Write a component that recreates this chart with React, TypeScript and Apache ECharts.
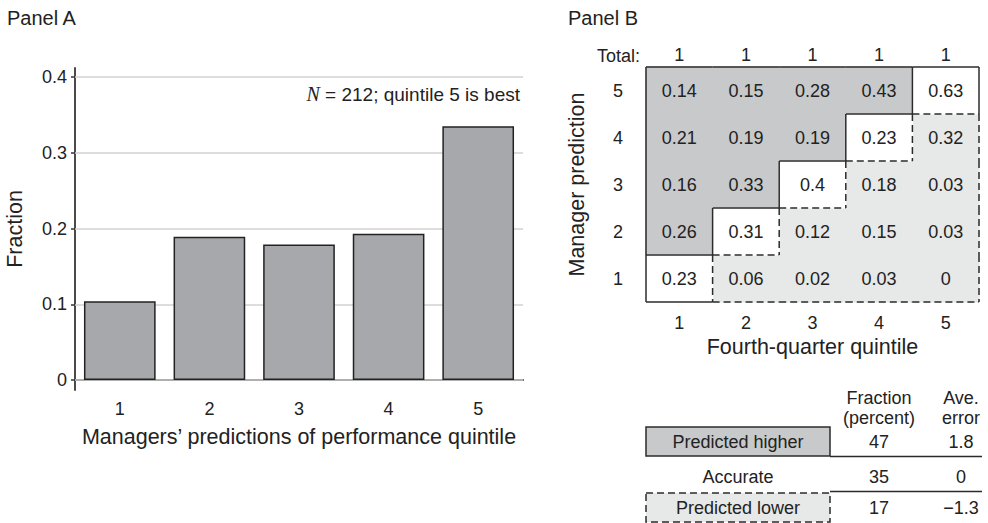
import React, { useEffect, useRef } from "react";
import * as echarts from "echarts";

// Panel A: share of managers' predictions in each performance quintile
const quintiles = ["1", "2", "3", "4", "5"];
const predictionShare = [0.104, 0.189, 0.179, 0.193, 0.335];
const fractionTicks = [0, 0.1, 0.2, 0.3, 0.4];

// Panel B: transition matrix, rows = manager prediction (1..5), columns = fourth-quarter quintile (1..5)
const predRow1 = [0.23, 0.06, 0.02, 0.03, 0];
const predRow2 = [0.26, 0.31, 0.12, 0.15, 0.03];
const predRow3 = [0.16, 0.33, 0.4, 0.18, 0.03];
const predRow4 = [0.21, 0.19, 0.19, 0.23, 0.32];
const predRow5 = [0.14, 0.15, 0.28, 0.43, 0.63];
const columnTotals = [1, 1, 1, 1, 1];

// Summary table beneath Panel B
const summaryLabels = ["Predicted higher", "Accurate", "Predicted lower"];
const summaryFraction = [47, 35, 17];
const summaryError = [1.8, 0, -1.3];

const FONT = "'Liberation Sans', Arial, Helvetica, sans-serif";
const INK = "#222";
const DARK_FILL = "#c8c9cb";
const LIGHT_FILL = "#e7e8e8";
const EDGE = "#2b2b2b";

const matrixRows = [predRow1, predRow2, predRow3, predRow4, predRow5];

type Kind = "higher" | "accurate" | "lower";
const cellKind = (row: number, col: number): Kind =>
  row > col ? "higher" : row === col ? "accurate" : "lower";

const fmtSigned = (v: number) => (v < 0 ? "\u2212" + String(Math.abs(v)) : String(v));

export default function App() {
  const ref = useRef<HTMLDivElement>(null);

  useEffect(() => {
    if (!ref.current) return;
    const chart = echarts.init(ref.current, null, { renderer: "svg" });

    const matrixData: number[][] = [];
    matrixRows.forEach((vals, r) => vals.forEach((v, c) => matrixData.push([c, r, v])));

    const renderCell = (params: any, api: any) => {
      const c = api.value(0) as number;
      const r = api.value(1) as number;
      const v = api.value(2) as number;
      const center = api.coord([c, r]);
      const size = api.size([1, 1]);
      const w = size[0];
      const h = size[1];
      const x0 = center[0] - w / 2;
      const y0 = center[1] - h / 2;
      const x1 = x0 + w;
      const y1 = y0 + h;
      const kind = cellKind(r, c);
      const fill = kind === "higher" ? DARK_FILL : kind === "lower" ? LIGHT_FILL : "#ffffff";

      const children: any[] = [
        // slight overlap so neighbouring fills join without seams
        { type: "rect", shape: { x: x0 - 0.5, y: y0 - 0.5, width: w + 1, height: h + 1 }, style: { fill }, z2: kind === "accurate" ? 1 : 0 },
        {
          type: "text",
          style: {
            text: String(v),
            x: center[0],
            y: center[1],
            align: "center",
            verticalAlign: "middle",
            fontSize: 18,
            fontFamily: FONT,
            fill: INK,
          },
          z2: 5,
        },
      ];

      const edges: [number, number, number[]][] = [
        [c, r + 1, [x0, y0, x1, y0]], // top
        [c, r - 1, [x0, y1, x1, y1]], // bottom
        [c - 1, r, [x0, y0, x0, y1]], // left
        [c + 1, r, [x1, y0, x1, y1]], // right
      ];
      edges.forEach(([nc, nr, seg]) => {
        const outside = nc < 0 || nc > 4 || nr < 0 || nr > 4;
        const differs = outside || cellKind(nr, nc) !== kind;
        if (!differs) return;
        if (kind === "accurate" && !outside) return;
        children.push({
          type: "line",
          shape: { x1: seg[0], y1: seg[1], x2: seg[2], y2: seg[3] },
          style: {
            stroke: EDGE,
            lineWidth: 1.5,
            lineDash: kind === "lower" ? [7, 4] : null,
          },
          z2: 10,
        });
      });
      return { type: "group", children };
    };

    const graphic: any[] = [
      {
        type: "text",
        x: 520,
        y: 94,
        style: {
          text: "{i|N} = 212; quintile 5 is best",
          align: "right",
          verticalAlign: "middle",
          fontSize: 19,
          fontFamily: FONT,
          fill: INK,
          rich: {
            i: { fontFamily: "'Liberation Serif', 'Times New Roman', serif", fontStyle: "italic", fontSize: 20, fill: INK },
          },
        },
      },
      {
        type: "text",
        x: 640,
        y: 56,
        style: { text: "Total:", align: "right", verticalAlign: "middle", fontSize: 18, fontFamily: FONT, fill: INK },
      },
    ];

    // Summary table
    const colLabelX = 738;
    const colFracX = 879;
    const colErrX = 961;
    const rowY = [442, 477, 508];
    const cellText = (text: string, x: number, y: number) => ({
      type: "text",
      x,
      y,
      style: { text, align: "center", verticalAlign: "middle", fontSize: 18, fontFamily: FONT, fill: INK },
    });
    graphic.push(cellText("Fraction", colFracX, 398));
    graphic.push(cellText("(percent)", colFracX, 418));
    graphic.push(cellText("Ave.", colErrX, 398));
    graphic.push(cellText("error", colErrX, 418));
    graphic.push({
      type: "rect",
      shape: { x: 646, y: 427, width: 184, height: 29 },
      style: { fill: DARK_FILL, stroke: EDGE, lineWidth: 1.5 },
    });
    graphic.push({
      type: "rect",
      shape: { x: 646, y: 493, width: 184, height: 29 },
      style: { fill: LIGHT_FILL, stroke: EDGE, lineWidth: 1.5, lineDash: [7, 4] },
    });
    graphic.push({ type: "line", shape: { x1: 830, y1: 456.5, x2: 982, y2: 456.5 }, style: { stroke: EDGE, lineWidth: 1.5 } });
    graphic.push({ type: "line", shape: { x1: 830, y1: 491.5, x2: 982, y2: 491.5 }, style: { stroke: EDGE, lineWidth: 1.5 } });
    summaryLabels.forEach((label, i) => {
      graphic.push(cellText(label, colLabelX, rowY[i]));
      graphic.push(cellText(String(summaryFraction[i]), colFracX, rowY[i]));
      graphic.push(cellText(fmtSigned(summaryError[i]), colErrX, rowY[i]));
    });

    chart.setOption({
      animation: false,
      textStyle: { fontFamily: FONT, color: INK },
      title: [
        { text: "Panel A", left: 2, top: 3, textStyle: { fontSize: 20, fontWeight: "normal", color: INK, fontFamily: FONT } },
        { text: "Panel B", left: 563, top: 3, textStyle: { fontSize: 20, fontWeight: "normal", color: INK, fontFamily: FONT } },
      ],
      grid: [
        { left: 75, top: 68, width: 448, height: 322 },
        { left: 646, top: 67, width: 333, height: 235 },
      ],
      xAxis: [
        {
          gridIndex: 0,
          type: "category",
          data: quintiles,
          axisLine: { lineStyle: { color: "#4a4a4a", width: 2 } },
          axisTick: { alignWithLabel: true, length: 6, lineStyle: { color: "#333", width: 1.5 } },
          axisLabel: { fontSize: 18, color: INK, margin: 10 },
          name: "Managers\u2019 predictions of performance quintile",
          nameLocation: "middle",
          nameGap: 36,
          nameTextStyle: { fontSize: 21.5, color: INK },
        },
        {
          gridIndex: 1,
          type: "category",
          data: quintiles,
          axisLine: { show: false },
          axisTick: { show: false },
          axisLabel: { fontSize: 18, color: INK, margin: 12 },
          name: "Fourth-quarter quintile",
          nameLocation: "middle",
          nameGap: 34,
          nameTextStyle: { fontSize: 21.5, color: INK },
        },
        {
          gridIndex: 1,
          type: "category",
          position: "top",
          data: quintiles,
          axisLine: { show: false },
          axisTick: { show: false },
          axisLabel: { fontSize: 18, color: INK, margin: 3, formatter: (_v: string, i: number) => String(columnTotals[i]) },
        },
      ],
      yAxis: [
        {
          gridIndex: 0,
          type: "value",
          min: -0.0132,
          max: 0.4119,
          axisLine: { show: true, lineStyle: { color: "#4a4a4a", width: 2 } },
          axisTick: { show: true, length: 4, customValues: fractionTicks, lineStyle: { color: "#333", width: 1.5 } },
          axisLabel: { fontSize: 18, color: INK, margin: 8, customValues: fractionTicks, formatter: (v: number) => String(v) },
          splitLine: { show: false },
          name: "Fraction",
          nameLocation: "middle",
          nameGap: 49,
          nameTextStyle: { fontSize: 21.5, color: INK },
        },
        {
          gridIndex: 1,
          type: "category",
          data: quintiles,
          axisLine: { show: false },
          axisTick: { show: false },
          axisLabel: { fontSize: 18, color: INK, margin: 23 },
          name: "Manager prediction",
          nameLocation: "middle",
          nameGap: 58,
          nameTextStyle: { fontSize: 21.5, color: INK },
        },
      ],
      series: [
        {
          type: "bar",
          xAxisIndex: 0,
          yAxisIndex: 0,
          data: predictionShare,
          barWidth: "80%",
          itemStyle: { color: "#a7a8ab", borderColor: "#222", borderWidth: 1.5 },
          markLine: {
            silent: true,
            z: 1,
            symbol: ["none", "none"],
            label: { show: false },
            lineStyle: { color: "#d2d2d2", width: 1.5, type: "solid" },
            data: fractionTicks.map((v) => ({ yAxis: v })),
          },
        },
        {
          type: "custom",
          xAxisIndex: 1,
          yAxisIndex: 1,
          data: matrixData,
          encode: { x: 0, y: 1 },
          renderItem: renderCell,
        },
      ],
      graphic,
    });

    return () => chart.dispose();
  }, []);

  return (
    <div
      ref={ref}
      style={{ position: "fixed", left: 0, top: 0, width: 988, height: 523, background: "#fff" }}
    />
  );
}
